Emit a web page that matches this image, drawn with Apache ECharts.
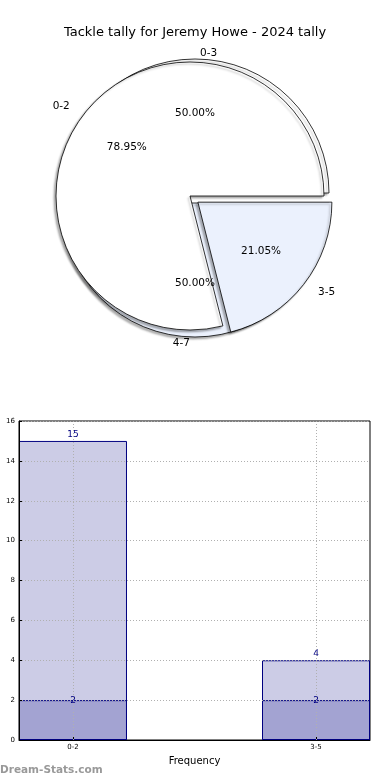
<!DOCTYPE html>
<html>
<head>
<meta charset="utf-8">
<script src="https://cdn.jsdelivr.net/npm/echarts@6/dist/echarts.min.js"></script>
<style>
html,body{margin:0;padding:0;background:#fff;}
#c{width:390px;height:780px;}
</style>
</head>
<body>
<div id="c"></div>
<script>
// ---- data ----
const titleText = 'Tackle tally for Jeremy Howe - 2024 tally';
const pieOuterNames = ['0-2', '3-5'];
const pieOuterValues = [15, 4];
const pieOuterExploded = [false, true];
const pieInnerNames = ['0-3', '4-7'];
const pieInnerValues = [2, 2];
const barCategories = ['0-2', '3-5'];
const barTotals = [15, 4];
const barInner = [2, 2];
const yMin = 0, yMax = 16, yStep = 2;
const xAxisName = 'Frequency';
const yAxisName = 'Tackle tally';
const watermark = 'Dream-Stats.com';

// ---- styles ----
const FONT = 'DejaVu Sans';
const sliceColors = ['#ffffff', '#ebf1fd'];
const R = 134;
const c1 = [190, 196];
const c2 = [195, 198];

function pieData(names, values, selectedFlags, colored) {
  return names.map((n, i) => {
    const d = { name: n, value: values[i], selected: selectedFlags ? selectedFlags[i] : true };
    if (colored) d.itemStyle = { color: sliceColors[i % 2] };
    return d;
  });
}
const pctFmt = p => p.percent.toFixed(2) + '%';

const baseSlice = {
  type: 'pie', startAngle: 0, clockwise: false, avoidLabelOverlap: false,
  animation: false, silent: true,
  itemStyle: { borderColor: '#000', borderWidth: 0.8,
    shadowColor: 'rgba(0,0,0,0.3)', shadowBlur: 2, shadowOffsetX: -2, shadowOffsetY: 2 },
  label: { show: true, position: 'outside', color: '#000', fontFamily: FONT, fontSize: 10.5 },
  emphasis: { disabled: true }
};
const baseLabel = {
  type: 'pie', startAngle: 0, clockwise: false, avoidLabelOverlap: false,
  animation: false, silent: true,
  itemStyle: { color: 'rgba(0,0,0,0)', borderWidth: 0 },
  label: { show: true, position: 'inside', color: '#000', fontFamily: FONT, fontSize: 10.5, formatter: pctFmt },
  labelLine: { show: false },
  emphasis: { disabled: true }
};

const chart = echarts.init(document.getElementById('c'), null, { renderer: 'canvas' });
chart.setOption({
  backgroundColor: '#fff',
  animation: false,
  title: { text: titleText, left: 'center', top: 21,
    textStyle: { fontFamily: FONT, fontSize: 13, fontWeight: 'normal', color: '#000' } },
  grid: { left: 19, right: 20, top: 421, bottom: 40, containLabel: false, outerBoundsMode: 'none',
    show: true, borderColor: '#000', borderWidth: 1, backgroundColor: 'transparent' },
  xAxis: {
    type: 'value', min: -0.2222, max: 1.2222, z: 5,
    name: xAxisName, nameLocation: 'middle', nameGap: 16,
    nameTextStyle: { fontFamily: FONT, fontSize: 10, color: '#000' },
    axisLine: { show: true, onZero: false, lineStyle: { color: '#000' } },
    axisTick: { show: true, inside: true, length: 3, customValues: barCategories.map((_, i) => i), lineStyle: { color: '#000' } },
    axisLabel: { customValues: barCategories.map((_, i) => i), formatter: v => barCategories[Math.round(v)] || '',
      fontFamily: FONT, fontSize: 7, color: '#000', margin: 4 },
    splitLine: { show: false }
  },
  yAxis: {
    type: 'value', min: yMin, max: yMax, interval: yStep, z: 5,
    name: yAxisName, nameLocation: 'middle', nameGap: 17,
    nameTextStyle: { fontFamily: FONT, fontSize: 9, color: '#000' },
    axisLine: { show: true, onZero: false, lineStyle: { color: '#000' } },
    axisTick: { show: true, inside: true, length: 3, lineStyle: { color: '#000' } },
    axisLabel: { fontFamily: FONT, fontSize: 7, color: '#000', margin: 4 },
    splitLine: { show: true, lineStyle: { color: '#b0b0b0', type: [1, 2], width: 1 } }
  },
  graphic: [{
    type: 'text', left: 0, top: 765, z: 10,
    style: { text: watermark, fontFamily: FONT, fontSize: 10.5, fontWeight: 'bold', fill: '#999' }
  }],
  series: [
    Object.assign({}, baseSlice, {
      center: c2, radius: R, selectedMode: 'multiple', selectedOffset: 5,
      labelLine: { show: false, length: 6, length2: 0 },
      data: pieData(pieInnerNames, pieInnerValues, null, true)
    }),
    Object.assign({}, baseSlice, {
      center: c1, radius: R, selectedMode: 'single', selectedOffset: 10,
      labelLine: { show: false, length: 12, length2: 0 },
      data: pieData(pieOuterNames, pieOuterValues, pieOuterExploded, true)
    }),
    Object.assign({}, baseLabel, {
      center: c2, radius: R * 1.15, selectedMode: 'multiple', selectedOffset: 5,
      data: pieData(pieInnerNames, pieInnerValues, null, false)
    }),
    Object.assign({}, baseLabel, {
      center: c1, radius: R * 1.15, selectedMode: 'single', selectedOffset: 10,
      data: pieData(pieOuterNames, pieOuterValues, pieOuterExploded, false)
    }),
    {
      type: 'bar', barWidth: 108, barGap: '-100%', z: 2,
      itemStyle: { color: 'rgba(0,0,128,0.2)', borderColor: '#000080', borderWidth: 1 },
      label: { show: true, position: 'top', distance: 2, color: '#000080', fontFamily: FONT, fontSize: 9 },
      data: barTotals.map((v, i) => [i, v]),
      markLine: {
        silent: true, symbol: 'none', z: 6, animation: false,
        label: { show: false },
        lineStyle: { color: '#b0b0b0', type: [1, 2], width: 1 },
        data: barCategories.map((_, i) => ({ xAxis: i }))
      }
    },
    {
      type: 'bar', barWidth: 108, barGap: '-100%', z: 2,
      itemStyle: { color: 'rgba(0,0,128,0.2)', borderColor: '#000080', borderWidth: 1 },
      label: { show: true, position: 'top', distance: -5, color: '#000080', fontFamily: FONT, fontSize: 9 },
      data: barInner.map((v, i) => [i, v])
    }
  ]
});
</script>
</body>
</html>
